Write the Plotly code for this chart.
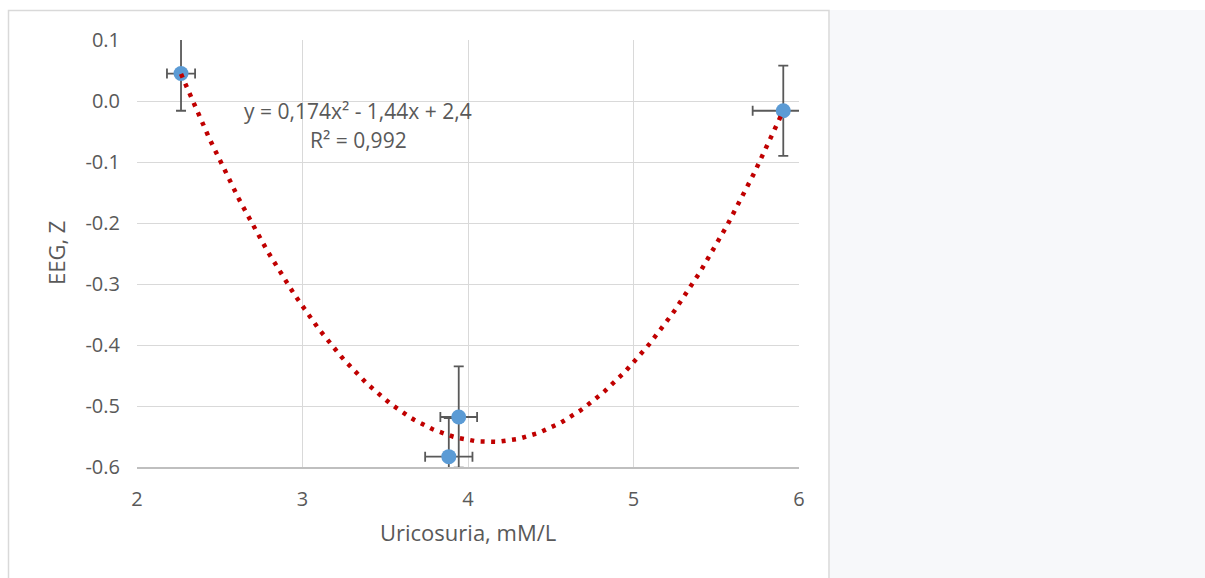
import numpy as np
import plotly.graph_objects as go

# ---- data ----
uric_x = [2.266, 3.884, 3.944, 5.905]
eeg_y = [0.045, -0.583, -0.518, -0.016]
err_x = [0.085, 0.143, 0.111, 0.185]
err_y = [0.061, 0.063, 0.083, 0.074]

x_ticks = [2, 3, 4, 5, 6]
x_ticktext = ["2", "3", "4", "5", "6"]
y_ticks = [0.1, 0.0, -0.1, -0.2, -0.3, -0.4, -0.5, -0.6]
y_ticktext = ["0.1", "0.0", "-0.1", "-0.2", "-0.3", "-0.4", "-0.5", "-0.6"]

eq_text = "y = 0,174x² - 1,44x + 2,4"
r2_text = "R² = 0,992"
x_title = "Uricosuria, mM/L"
y_title = "EEG, Z"

# ---- quadratic trendline fitted to the data ----
coef = np.polyfit(uric_x, eeg_y, 2)
tx = np.linspace(min(uric_x), max(uric_x), 200)
ty = np.polyval(coef, tx)

# ---- layout geometry (page pixels; body margin removed below) ----
W, H = 1205, 578
L, R, T, B = 137, 799, 40, 467
pw, ph = R - L, B - T


def px(x):
    return (x - L) / pw


def py(y):
    return (B - y) / ph


TXT = "#595959"
FONT = "Open Sans"

fig = go.Figure()

fig.add_trace(go.Scatter(
    x=uric_x, y=eeg_y, mode="markers",
    marker=dict(size=15, color="#5B9BD5", line=dict(width=0)),
    error_x=dict(type="data", array=err_x, visible=True, color="#595959",
                 thickness=1.8, width=5),
    error_y=dict(type="data", array=err_y, visible=True, color="#595959",
                 thickness=1.8, width=5),
    showlegend=False, hoverinfo="skip",
))

fig.add_trace(go.Scatter(
    x=tx, y=ty, mode="lines",
    line=dict(color="#C00000", width=4.5, dash="4px,6.5px"),
    showlegend=False, hoverinfo="skip",
))

shapes = [
    dict(type="rect", xref="paper", yref="paper", layer="below",
         x0=px(830), x1=px(1220), y0=py(600), y1=py(10),
         fillcolor="#F7F8FA", line=dict(width=0)),
    dict(type="rect", xref="paper", yref="paper", layer="below",
         x0=px(8.5), x1=px(829), y0=py(610), y1=py(10.5),
         fillcolor="white", line=dict(color="#D9D9D9", width=1.5)),
]

annotations = [
    dict(text=eq_text, xref="paper", yref="paper", x=px(358), y=py(111),
         xanchor="center", yanchor="middle", showarrow=False,
         font=dict(family=FONT, size=21, color=TXT)),
    dict(text=r2_text, xref="paper", yref="paper", x=px(358), y=py(140),
         xanchor="center", yanchor="middle", showarrow=False,
         font=dict(family=FONT, size=21, color=TXT)),
    dict(text=x_title, xref="paper", yref="paper", x=px(468), y=py(532),
         xanchor="center", yanchor="middle", showarrow=False,
         font=dict(family=FONT, size=22, color=TXT)),
    dict(text=y_title, xref="paper", yref="paper", x=px(56), y=py(253),
         xanchor="center", yanchor="middle", showarrow=False, textangle=-90,
         font=dict(family=FONT, size=22, color=TXT)),
]

fig.update_layout(
    width=W, height=H, autosize=False,
    margin=dict(l=L, r=W - R, t=T, b=H - B, pad=0),
    paper_bgcolor="white", plot_bgcolor="white",
    shapes=shapes, annotations=annotations,
    font=dict(family=FONT, color=TXT),
    xaxis=dict(range=[2, 6], tickvals=x_ticks, ticktext=x_ticktext,
               showgrid=True, gridcolor="#D9D9D9", gridwidth=1,
               zeroline=False, showline=True, linecolor="#BFBFBF", linewidth=1.5,
               ticks="", ticklabelstandoff=13,
               tickfont=dict(family=FONT, size=20, color=TXT)),
    yaxis=dict(range=[-0.6, 0.1], tickvals=y_ticks, ticktext=y_ticktext,
               showgrid=True, gridcolor="#D9D9D9", gridwidth=1,
               zeroline=False, showline=False,
               ticks="", ticklabelstandoff=16,
               tickfont=dict(family=FONT, size=20, color=TXT)),
)

fig.write_html(
    "out.html",
    config={"displayModeBar": False},
    default_width="1205px", default_height="578px",
    post_script="document.body.style.margin='0';document.body.style.overflow='hidden';",
)
